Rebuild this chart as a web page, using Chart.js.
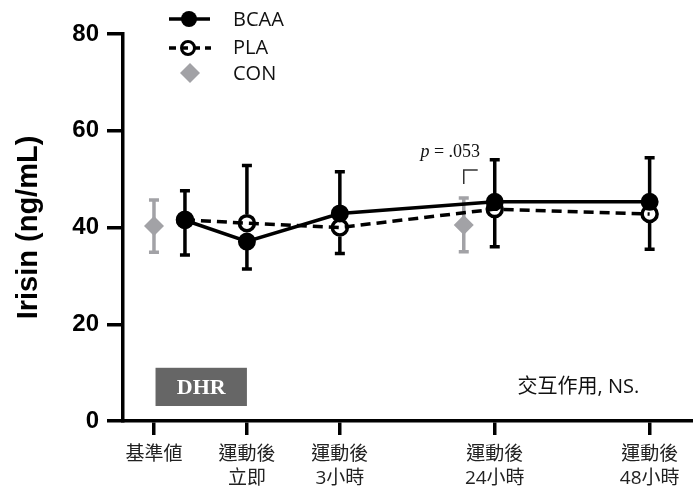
<!DOCTYPE html>
<html lang="zh-Hant">
<head>
    <meta charset="UTF-8">
    <title>Irisin</title>
    <script src="https://cdn.jsdelivr.net/npm/chart.js"></script>
    <style>
        body {
            margin: 0;
            background: #fff;
        }
        .wrap {
            width: 693px;
            height: 495px;
            position: relative;
        }
    </style>
</head>
<body>
    <div class="wrap"><canvas id="irisinChart"></canvas></div>

    <script>
        // time points on a linear x axis, and their labels
        const tickPos = [1, 4, 7, 12, 17];
        const tickLabels = [['基準値'], ['運動後', '立即'], ['運動後', '3小時'], ['運動後', '24小時'], ['運動後', '48小時']];

        // BCAA and PLA share x positions (baseline drawn right of CON)
        const groupX = [2, 4, 7, 12, 17];
        const bcaaMean = [41.5, 37.1, 42.9, 45.3, 45.3];
        const bcaaHigh = [47.6, null, 51.5, 54.0, 54.4];
        const bcaaLow = [34.3, 31.4, null, null, null];

        const plaMean = [41.6, 40.9, 40.0, 43.8, 42.8];
        const plaHigh = [null, 52.8, null, null, null];
        const plaLow = [null, null, 34.6, 36.0, 35.5];

        const conX = [1, 11];
        const conMean = [40.3, 40.5];
        const conHigh = [45.7, 46.1];
        const conLow = [34.9, 35.0];

        const GRAY = '#a2a2a6';
        const SANS = '"Open Sans", "Noto Sans CJK JP", sans-serif';

        // error bars go under the markers
        const errorBars = {
            id: 'errorBars',
            beforeDatasetsDraw(chart) {
                const { ctx, scales: { x, y } } = chart;
                chart.data.datasets.forEach(ds => {
                    ctx.save();
                    ctx.strokeStyle = ds.errColor;
                    ctx.lineWidth = 3.5;
                    ds.data.forEach((p, i) => {
                        const px = x.getPixelForValue(p.x);
                        const py = y.getPixelForValue(p.y);
                        [ds.errHigh[i], ds.errLow[i]].forEach(v => {
                            if (v == null) return;
                            const ey = y.getPixelForValue(v);
                            const dir = Math.sign(ey - py);
                            ctx.beginPath();
                            ctx.moveTo(px, py + dir * ds.errGap);
                            ctx.lineTo(px, ey);
                            ctx.moveTo(px - 5, ey);
                            ctx.lineTo(px + 5, ey);
                            ctx.stroke();
                        });
                    });
                    ctx.restore();
                });
            }
        };

        // legend, DHR box and the little text notes
        const annotations = {
            id: 'annotations',
            afterDraw(chart) {
                const { ctx, scales: { x, y } } = chart;
                const sets = chart.data.datasets;
                ctx.save();

                // legend
                ctx.font = '20px ' + SANS;
                ctx.textBaseline = 'middle';
                ctx.fillStyle = '#111';
                ctx.strokeStyle = '#000';

                ctx.lineWidth = 3.5;
                ctx.beginPath();
                ctx.moveTo(169, 19);
                ctx.lineTo(210, 19);
                ctx.stroke();
                ctx.beginPath();
                ctx.arc(189, 19, 8, 0, Math.PI * 2);
                ctx.fillStyle = '#000';
                ctx.fill();
                ctx.fillStyle = '#111';
                ctx.fillText(sets[0].label, 233, 20);

                ctx.setLineDash([7, 5]);
                ctx.beginPath();
                ctx.moveTo(169, 48);
                ctx.lineTo(211, 48);
                ctx.stroke();
                ctx.setLineDash([]);
                ctx.lineWidth = 3;
                ctx.beginPath();
                ctx.arc(188, 48, 6.5, 0, Math.PI * 2);
                ctx.stroke();
                ctx.fillText(sets[1].label, 233, 48);

                ctx.fillStyle = GRAY;
                ctx.beginPath();
                ctx.moveTo(190, 63);
                ctx.lineTo(200, 73);
                ctx.lineTo(190, 83);
                ctx.lineTo(180, 73);
                ctx.closePath();
                ctx.fill();
                ctx.fillStyle = '#111';
                ctx.fillText(sets[2].label, 233, 74);

                // DHR box (baseline to post-exercise)
                const bx0 = x.getPixelForValue(1.05);
                const bx1 = x.getPixelForValue(4.0);
                const by0 = y.getPixelForValue(11);
                const by1 = y.getPixelForValue(3.1);
                ctx.fillStyle = '#666';
                ctx.fillRect(bx0, by0, bx1 - bx0, by1 - by0);
                ctx.fillStyle = '#fff';
                ctx.textAlign = 'center';
                ctx.font = 'bold 22px "Liberation Serif", serif';
                ctx.fillText('DHR', (bx0 + bx1) / 2, (by0 + by1) / 2 + 1);

                // interaction note
                ctx.fillStyle = '#111';
                ctx.font = '20px ' + SANS;
                ctx.fillText('交互作用, NS.', x.getPixelForValue(14.7), y.getPixelForValue(7));

                // p value with bracket over CON at 24 h
                const cx = x.getPixelForValue(conX[1]);
                ctx.textAlign = 'left';
                ctx.textBaseline = 'alphabetic';
                const tx = x.getPixelForValue(9.6);
                const ty = y.getPixelForValue(54.6);
                ctx.font = 'italic 18px "Liberation Serif", serif';
                ctx.fillText('p', tx, ty);
                const pw = ctx.measureText('p').width;
                ctx.font = '18px "Liberation Serif", serif';
                ctx.fillText(' = .053', tx + pw, ty);

                ctx.strokeStyle = '#333';
                ctx.lineWidth = 1.5;
                ctx.beginPath();
                ctx.moveTo(cx, y.getPixelForValue(49.0));
                ctx.lineTo(cx, y.getPixelForValue(51.9));
                ctx.lineTo(x.getPixelForValue(conX[1] + 0.45), y.getPixelForValue(51.9));
                ctx.stroke();

                ctx.restore();
            }
        };

        const axisGrid = len => ({
            display: true,
            drawOnChartArea: false,
            drawTicks: true,
            tickLength: len,
            color: '#000',
            lineWidth: 3.5
        });

        new Chart(document.getElementById('irisinChart'), {
            type: 'line',
            data: {
                datasets: [
                    {
                        label: 'BCAA',
                        data: groupX.map((v, i) => ({ x: v, y: bcaaMean[i] })),
                        borderColor: '#000',
                        borderWidth: 3.5,
                        pointRadius: 8,
                        pointBorderWidth: 2,
                        pointBackgroundColor: '#000',
                        pointBorderColor: '#000',
                        errHigh: bcaaHigh,
                        errLow: bcaaLow,
                        errColor: '#000',
                        errGap: 0
                    },
                    {
                        label: 'PLA',
                        data: groupX.map((v, i) => ({ x: v, y: plaMean[i] })),
                        borderColor: '#000',
                        borderWidth: 3.5,
                        borderDash: [10, 6],
                        pointRadius: 7.5,
                        pointBorderWidth: 3.5,
                        pointBackgroundColor: 'rgba(0,0,0,0)',
                        pointBorderColor: '#000',
                        errHigh: plaHigh,
                        errLow: plaLow,
                        errColor: '#000',
                        errGap: 9
                    },
                    {
                        label: 'CON',
                        data: conX.map((v, i) => ({ x: v, y: conMean[i] })),
                        showLine: false,
                        pointStyle: 'rectRot',
                        pointRadius: 10,
                        pointBorderWidth: 0,
                        pointBackgroundColor: GRAY,
                        pointBorderColor: GRAY,
                        errHigh: conHigh,
                        errLow: conLow,
                        errColor: GRAY,
                        errGap: 0
                    }
                ]
            },
            options: {
                responsive: true,
                maintainAspectRatio: false,
                animation: false,
                layout: { autoPadding: false, padding: { top: 34, right: 0, left: 0, bottom: 0 } },
                plugins: {
                    legend: { display: false },
                    tooltip: { enabled: false }
                },
                scales: {
                    x: {
                        type: 'linear',
                        min: 0,
                        max: 18.4,
                        afterBuildTicks: s => { s.ticks = tickPos.map(v => ({ value: v })); },
                        afterFit: s => {
                            s.height = 74;
                            s.paddingLeft = 0;
                            s.paddingRight = 0;
                        },
                        border: { display: true, color: '#000', width: 3.5 },
                        grid: axisGrid(14),
                        ticks: {
                            callback: v => tickLabels[tickPos.indexOf(v)],
                            color: '#222',
                            font: { family: SANS, size: 19, lineHeight: 1.25 },
                            padding: 8,
                            maxRotation: 0,
                            autoSkip: false
                        }
                    },
                    y: {
                        min: 0,
                        max: 80,
                        afterFit: s => { s.width = 123; },
                        border: { display: true, color: '#000', width: 3.5 },
                        grid: axisGrid(16),
                        ticks: {
                            stepSize: 20,
                            color: '#000',
                            font: { family: '"Liberation Sans", Arial, sans-serif', size: 24, weight: 'bold' },
                            padding: 8
                        },
                        title: {
                            display: true,
                            text: 'Irisin (ng/mL)',
                            color: '#000',
                            font: { family: '"Liberation Sans", Arial, sans-serif', size: 29, weight: 'bold' },
                            padding: { top: 12, bottom: 0 }
                        }
                    }
                }
            },
            plugins: [errorBars, annotations]
        });
    </script>
</body>
</html>
